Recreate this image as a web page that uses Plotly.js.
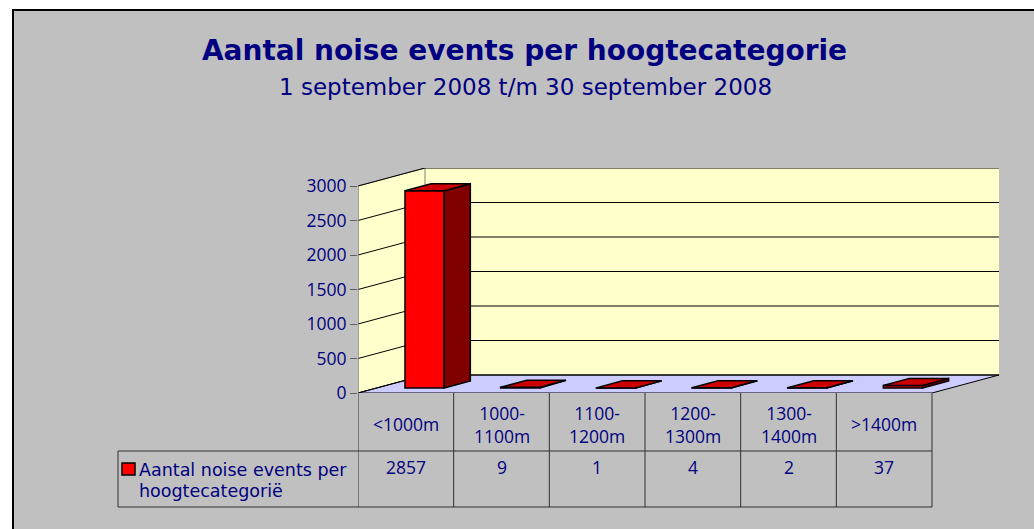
<!DOCTYPE html>
<html>
<head>
<meta charset="utf-8">
<script src="https://cdn.plot.ly/plotly-3.0.1.min.js"></script>
<style>html,body{margin:0;padding:0;background:#fff;}#chart{width:1034px;height:529px;}</style>
</head>
<body>
<div id="chart"></div>
<script>
// ---- data ----
const titleText = 'Aantal noise events per hoogtecategorie';
const subtitleText = '1 september 2008 t/m 30 september 2008';
const seriesName = 'Aantal noise events per hoogtecategorië';
const categories = ['<1000m', '1000-1100m', '1100-1200m', '1200-1300m', '1300-1400m', '>1400m'];
const tickLabels = ['&lt;1000m', '1000-<br>1100m', '1100-<br>1200m', '1200-<br>1300m', '1300-<br>1400m', '&gt;1400m'];
const values = [2857, 9, 1, 4, 2, 37];
const yTicks = [0, 500, 1000, 1500, 2000, 2500, 3000];

// ---- geometry (pixels of the page) ----
const W = 1034, H = 529;
const L = 358, R = 999, T = 168, B = 393;
const DEPTH_PX_X = 67, DEPTH_PX_Y = 18;
const ROW1_BOTTOM = 451, ROW2_BOTTOM = 507, LEGEND_LEFT = 118;
const N = categories.length;
const YMAX = yTicks[yTicks.length - 1];
const catPx = (R - L - DEPTH_PX_X) / N;
const pxPerUnit = (B - T - DEPTH_PX_Y) / YMAX;
const DX = DEPTH_PX_X / catPx;
const DY = DEPTH_PX_Y / pxPerUnit;
const F0 = 0.28, F1 = 0.67, BW = 0.41;

const xp = px => (px - L) / (R - L);
const yp = py => (B - py) / (B - T);

const NAVY = '#000080';
const FONT_TEXT = 'DejaVu Sans, Verdana, sans-serif';
const FONT_NUM = 'Open Sans, Noto Sans, sans-serif';

// ---- bar faces ----
const frontX = [], frontBase = [];
const topX = [], topY = [], sideX = [], sideY = [];
values.forEach((v, i) => {
  const xl = i + 0.5 - BW / 2 + F0 * DX;
  const xr = xl + BW;
  const b = F0 * DY;
  const d = (F1 - F0) * DX, dy = (F1 - F0) * DY;
  frontX.push(i + 0.5 + F0 * DX);
  frontBase.push(b);
  topX.push(xl, xr, xr + d, xl + d, xl, null);
  topY.push(b + v, b + v, b + v + dy, b + v + dy, b + v, null);
  sideX.push(xr, xr + d, xr + d, xr, xr, null);
  sideY.push(b, b + dy, b + v + dy, b + v, b, null);
});

const traces = [
  {type: 'bar', x: frontX, y: values, base: frontBase, width: BW, name: seriesName,
   marker: {color: '#ff0000', line: {color: '#000000', width: 1.5}}, hoverinfo: 'skip'},
  {type: 'scatter', mode: 'lines', x: sideX, y: sideY, fill: 'toself', fillcolor: '#800000',
   line: {color: '#000000', width: 1.5}, hoverinfo: 'skip', showlegend: false},
  {type: 'scatter', mode: 'lines', x: topX, y: topY, fill: 'toself', fillcolor: '#cc0000',
   line: {color: '#000000', width: 1.5}, hoverinfo: 'skip', showlegend: false}
];

// ---- walls, floor, gridlines, table ----
const shapes = [];
shapes.push({type: 'rect', xref: 'paper', yref: 'paper', layer: 'below',
  x0: xp(13), x1: xp(W + 10), y0: yp(H + 10), y1: yp(10),
  fillcolor: '#c0c0c0', line: {color: '#000000', width: 2}});
shapes.push({type: 'path', xref: 'x', yref: 'y', layer: 'below',
  path: `M${DX},${DY} L${N + DX},${DY} L${N + DX},${YMAX + DY} L${DX},${YMAX + DY} Z`,
  fillcolor: '#ffffcc', line: {width: 0}});
shapes.push({type: 'path', xref: 'x', yref: 'y', layer: 'below',
  path: `M0,0 L${DX},${DY} L${DX},${YMAX + DY} L0,${YMAX} Z`,
  fillcolor: '#ffffcc', line: {color: '#808080', width: 1}});
shapes.push({type: 'path', xref: 'x', yref: 'y', layer: 'below',
  path: `M0,0 L${N},0 L${N + DX},${DY} L${DX},${DY} Z`,
  fillcolor: '#ccccff', line: {color: '#000000', width: 1}});
yTicks.forEach(t => {
  shapes.push({type: 'path', xref: 'x', yref: 'y', layer: 'below',
    path: `M0,${t} L${DX},${t + DY} L${N + DX},${t + DY}`,
    line: {color: '#000000', width: 1}});
});
shapes.push({type: 'line', xref: 'x', yref: 'y', layer: 'below',
  x0: 0, x1: 0, y0: 0, y1: YMAX, line: {color: '#808080', width: 1}});
const tl = {color: '#303030', width: 1};
shapes.push({type: 'line', xref: 'x', yref: 'paper', x0: 0, x1: N, y0: yp(ROW1_BOTTOM), y1: yp(ROW1_BOTTOM), line: tl});
shapes.push({type: 'line', xref: 'paper', yref: 'paper', x0: xp(LEGEND_LEFT), x1: xp(L), y0: yp(ROW1_BOTTOM), y1: yp(ROW1_BOTTOM), line: tl});
shapes.push({type: 'line', xref: 'paper', yref: 'paper', x0: xp(LEGEND_LEFT), x1: xp(L), y0: yp(ROW2_BOTTOM), y1: yp(ROW2_BOTTOM), line: tl});
shapes.push({type: 'line', xref: 'x', yref: 'paper', x0: 0, x1: N, y0: yp(ROW2_BOTTOM), y1: yp(ROW2_BOTTOM), line: tl});
shapes.push({type: 'line', xref: 'paper', yref: 'paper', x0: xp(LEGEND_LEFT), x1: xp(LEGEND_LEFT), y0: yp(ROW1_BOTTOM), y1: yp(ROW2_BOTTOM), line: tl});
for (let i = 0; i <= N; i++) {
  shapes.push({type: 'line', xref: 'x', yref: 'paper', x0: i, x1: i, y0: 0, y1: yp(ROW2_BOTTOM), line: tl});
}
shapes.push({type: 'rect', xref: 'paper', yref: 'paper',
  x0: xp(122), x1: xp(135), y0: yp(475), y1: yp(463),
  fillcolor: '#ff0000', line: {color: '#000000', width: 1.5}});

const annotations = [];
categories.forEach((c, i) => {
  annotations.push({xref: 'x', yref: 'paper', x: i + 0.5, y: yp(424), text: tickLabels[i],
    showarrow: false, xanchor: 'center', yanchor: 'middle', align: 'center',
    font: {family: FONT_NUM, size: 17.5, color: NAVY}});
  annotations.push({xref: 'x', yref: 'paper', x: i + 0.5, y: yp(467), text: String(values[i]),
    showarrow: false, xanchor: 'center', yanchor: 'middle',
    font: {family: FONT_NUM, size: 17.5, color: NAVY}});
});
const legendLines = ['Aantal noise events per', 'hoogtecategorië'];
legendLines.forEach((s, k) => {
  annotations.push({xref: 'paper', yref: 'paper', x: xp(137), y: yp(470 + 21 * k), text: s,
    showarrow: false, xanchor: 'left', yanchor: 'middle',
    font: {family: FONT_TEXT, size: 17.5, color: NAVY}});
});
annotations.push({xref: 'paper', yref: 'paper', x: xp(525), y: yp(87), text: subtitleText,
  showarrow: false, xanchor: 'center', yanchor: 'middle',
  font: {family: FONT_TEXT, size: 23, color: NAVY}});

const layout = {
  width: W, height: H,
  margin: {l: L, r: W - R, t: T, b: H - B, pad: 0},
  paper_bgcolor: '#ffffff', plot_bgcolor: 'rgba(0,0,0,0)',
  showlegend: false,
  title: {text: '<b>' + titleText + '</b>', x: 524.5 / W, xanchor: 'center',
    y: 1 - 50 / H, yanchor: 'middle', yref: 'container', xref: 'container',
    font: {family: FONT_TEXT, size: 28, color: NAVY}},
  xaxis: {range: [0, N + DX], showgrid: false, zeroline: false, showticklabels: false,
    ticks: '', showline: false, fixedrange: true},
  yaxis: {range: [0, YMAX + DY], tickvals: yTicks, ticktext: yTicks.map(String),
    showgrid: false, zeroline: false, showline: false, ticks: 'outside', ticklen: 7,
    tickcolor: '#606060', tickfont: {family: FONT_NUM, size: 17.5, color: NAVY}, fixedrange: true},
  shapes: shapes,
  annotations: annotations
};

Plotly.newPlot('chart', traces, layout, {displayModeBar: false, staticPlot: true});
</script>
</body>
</html>
